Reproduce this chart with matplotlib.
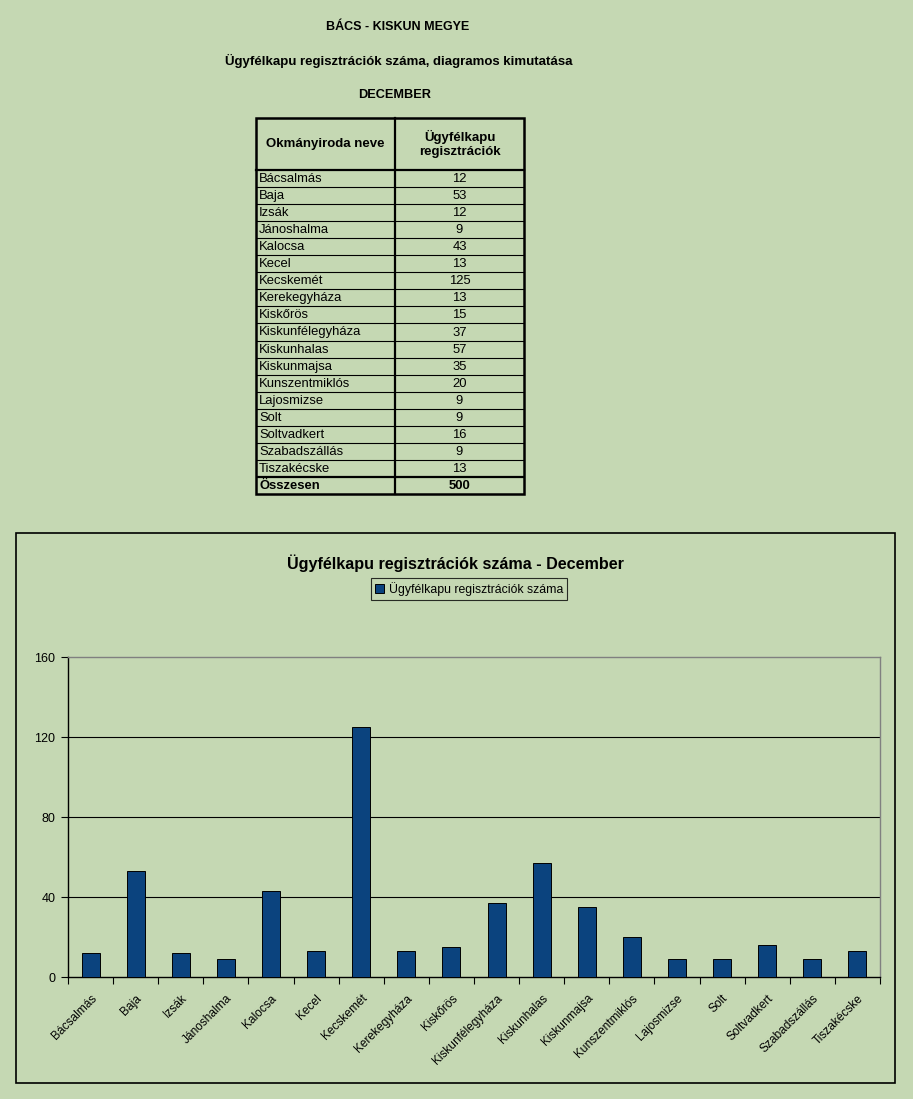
import matplotlib
matplotlib.use("Agg")
import matplotlib.pyplot as plt
from matplotlib.patches import Rectangle
import numpy as np

plt.rcParams['font.family'] = ['Liberation Sans', 'DejaVu Sans']

offices = ["Bácsalmás", "Baja", "Izsák", "Jánoshalma", "Kalocsa", "Kecel", "Kecskemét",
           "Kerekegyháza", "Kiskőrös", "Kiskunfélegyháza", "Kiskunhalas", "Kiskunmajsa",
           "Kunszentmiklós", "Lajosmizse", "Solt", "Soltvadkert", "Szabadszállás", "Tiszakécske"]
registrations = [12, 53, 12, 9, 43, 13, 125, 13, 15, 37, 57, 35, 20, 9, 9, 16, 9, 13]
total_label = "Összesen"
total_value = 500
yticks = [0, 40, 80, 120, 160]

BG = "#C5D8B3"
BAR = "#0B437E"
W, H = 913, 1099

fig = plt.figure(figsize=(W / 100, H / 100), dpi=100, facecolor=BG)

# overlay axes in pixel coordinates for text/table/frames
ov = fig.add_axes([0, 0, 1, 1], zorder=0)
ov.set_xlim(0, W)
ov.set_ylim(H, 0)
ov.axis("off")
ov.patch.set_alpha(0)

# Headings
ov.text(398, 27, "BÁCS - KISKUN MEGYE", ha="center", va="center", fontsize=9, fontweight="bold")
ov.text(399, 61, "Ügyfélkapu regisztrációk száma, diagramos kimutatása", ha="center", va="center",
        fontsize=9.5, fontweight="bold")
ov.text(395, 95, "DECEMBER", ha="center", va="center", fontsize=9.2, fontweight="bold")

# Table
tx0, tx1, tx2 = 256, 395, 524
ty0, ty1 = 118, 170
rh = (494 - 170) / 19
nrows = len(offices) + 1
ty_end = ty1 + nrows * rh
for i in range(1, nrows):
    y = ty1 + i * rh
    lw = 1.6 if i == nrows - 1 else 0.8
    ov.plot([tx0, tx2], [y, y], color="black", lw=lw, solid_capstyle="butt")
ov.plot([tx0, tx2], [ty1, ty1], color="black", lw=1.6)
ov.plot([tx1, tx1], [ty0, ty_end], color="black", lw=1.6)
ov.add_patch(Rectangle((tx0, ty0), tx2 - tx0, ty_end - ty0, fill=False, ec="black", lw=1.8))
ov.text((tx0 + tx1) / 2, (ty0 + ty1) / 2, "Okmányiroda neve", ha="center", va="center",
        fontsize=9.5, fontweight="bold")
ov.text((tx1 + tx2) / 2, (ty0 + ty1) / 2, "Ügyfélkapu\nregisztrációk", ha="center", va="center",
        fontsize=9.5, fontweight="bold", linespacing=1.25)
for i, (name, val) in enumerate(zip(offices, registrations)):
    yc = ty1 + (i + 0.5) * rh + 0.5
    ov.text(tx0 + 3, yc, name, ha="left", va="center", fontsize=9.4)
    ov.text((tx1 + tx2) / 2, yc, str(val), ha="center", va="center", fontsize=9.4)
yc = ty1 + (nrows - 0.5) * rh + 0.5
ov.text(tx0 + 3, yc, total_label, ha="left", va="center", fontsize=9.4, fontweight="bold")
ov.text((tx1 + tx2) / 2, yc, str(total_value), ha="center", va="center", fontsize=9.4,
        fontweight="bold")

# Chart frame
ov.add_patch(Rectangle((16, 533), 879, 550, fill=False, ec="black", lw=1.2))
ov.text(455, 563, "Ügyfélkapu regisztrációk száma - December", ha="center", va="center",
        fontsize=11.6, fontweight="bold")

# Bar chart axes
L, R, T, B = 68, 880, 657, 977
ax = fig.add_axes([L / W, 1 - B / H, (R - L) / W, (B - T) / H], zorder=1)
ax.set_facecolor(BG)
x = np.arange(len(offices))
ax.bar(x, registrations, width=0.4, color=BAR, edgecolor="black", linewidth=0.7, zorder=3,
       label="Ügyfélkapu regisztrációk száma")
ax.set_xlim(-0.5, len(offices) - 0.5)
ax.set_ylim(0, 160)
ax.set_yticks(yticks)
ax.set_yticklabels([str(v) for v in yticks], fontsize=9)
for v in yticks[1:-1]:
    ax.axhline(v, color="black", lw=0.8, zorder=1)
ax.set_xticks(np.arange(len(offices) + 1) - 0.5, minor=True)
ax.set_xticks(x)
ax.set_xticklabels(offices, rotation=45, ha="right", rotation_mode="anchor", fontsize=8.6)
ax.tick_params(axis="x", which="major", length=0, pad=11)
ax.tick_params(axis="x", which="minor", length=5, width=0.8, direction="out", color="black")
ax.tick_params(axis="y", length=5, width=0.8, direction="out", pad=4)
for s in ["left", "bottom"]:
    ax.spines[s].set_color("black")
    ax.spines[s].set_linewidth(1.0)
for s in ["top", "right"]:
    ax.spines[s].set_color("#808080")
    ax.spines[s].set_linewidth(1.0)

leg = fig.legend(loc="center", bbox_to_anchor=(469 / W, 1 - 589 / H), fontsize=8.8,
                 frameon=True, fancybox=False, edgecolor="black", facecolor=BG,
                 handlelength=0.7, handleheight=0.7, handletextpad=0.4, borderpad=0.3)
leg.get_frame().set_linewidth(0.8)

fig.savefig("out.png", dpi=100, facecolor=BG)
